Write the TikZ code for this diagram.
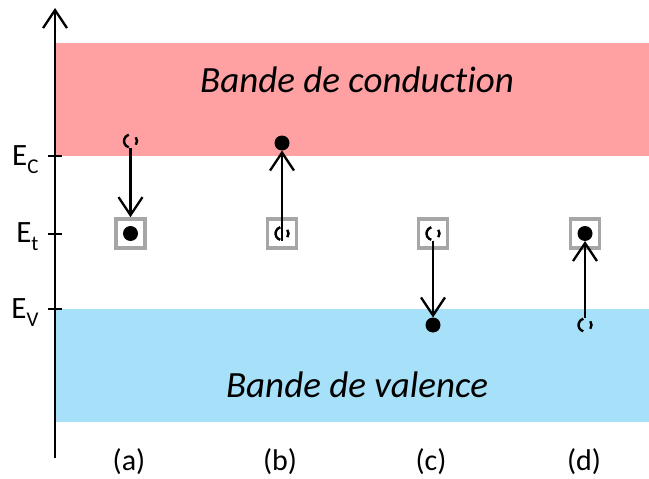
\documentclass[tikz,border=0pt]{standalone}
\usepackage{fontspec}
\setmainfont[Ligatures=NoCommon]{Carlito}
\usetikzlibrary{arrows.meta}
\definecolor{bandred}{RGB}{255,161,163}
\definecolor{bandblue}{RGB}{166,225,249}
\definecolor{boxgray}{RGB}{166,166,166}
\tikzset{
  arr/.style={line width=2.3pt,-{Straight Barb[length=18pt,width=24pt,line width=2.3pt]}},
  trapbox/.style={draw=boxgray,line width=3.6pt,minimum size=29pt,inner sep=0pt,fill=white},
  electron/.style={circle,fill=black,minimum size=15pt,inner sep=0pt,outer sep=0pt},
  hole/.style={circle,minimum size=14pt,inner sep=0pt,outer sep=0pt},
  holeline/.style={line width=2.4pt,draw=black},
  bandtext/.style={font=\fontsize{37}{40}\selectfont\itshape,anchor=base},
  lvl/.style={font=\fontsize{31}{32}\selectfont,anchor=base east},
  collab/.style={font=\fontsize{30}{32}\selectfont,anchor=base},
}
\newcommand{\sbs}[1]{\raisebox{-8pt}{\fontsize{21}{21}\selectfont #1}}
\begin{document}
\begin{tikzpicture}[x=1pt,y=-1pt]
\useasboundingbox (0,0) rectangle (649,479);
% bands
\fill[bandred] (55,43) rectangle (649,156);
\fill[bandblue] (55,309) rectangle (649,422);
\node[bandtext] (tc) at (357,92) {Bande de conduction};
\node[bandtext] (tv) at (357,397) {Bande de valence};
% axis
\coordinate (ax0) at (55,458);
\coordinate (ax1) at (55,8);
\draw[arr] (ax0) -- (ax1);
\foreach \y/\n in {156/c,234/t,309/v}{
  \coordinate (tl\n) at (48,\y);
  \coordinate (tr\n) at (62,\y);
  \draw[line width=2.3pt] (tl\n) -- (tr\n);
}
\node[lvl] (ec) at (42,165) {E\sbs{C}};
\node[lvl] (et) at (42,242) {E\sbs{t}};
\node[lvl] (ev) at (42,318) {E\sbs{V}};
% (a)
\node[trapbox] (sqa) at (130.5,233.5) {};
\node[electron] (ea) at (130.5,233.5) {};
\node[hole] (ha) at (130.5,141) {};
\draw[arr] (ha.south) -- (sqa.north);
% (b)
\node[trapbox] (sqb) at (282,233.5) {};
\node[hole] (hb) at (282,233.5) {};
\node[electron] (eb) at (282,143) {};
\draw[arr] (hb.south) -- (eb.south);
% (c)
\node[trapbox] (sqc) at (433,233.5) {};
\node[hole] (hc) at (433,233.5) {};
\node[electron] (ec2) at (433,325) {};
\draw[arr] (hc.south) -- (ec2.north);
% (d)
\node[trapbox] (sqd) at (585,233.5) {};
\node[electron] (ed) at (585,233.5) {};
\node[hole] (hd) at (585,325) {};
\draw[arr] (hd.north) -- (ed.south);
% hole outlines
\foreach \h in {ha,hb,hc,hd}{
  \draw[holeline] ([shift={(105:6.5)}]\h.center) arc[start angle=105,end angle=255,radius=6.5];
  \draw[holeline] ([shift={(-35:6.5)}]\h.center) arc[start angle=-35,end angle=35,radius=6.5];
}
% column labels
\node[collab] (la) at (129,470) {(a)};
\node[collab] (lb) at (280,470) {(b)};
\node[collab] (lc) at (431,470) {(c)};
\node[collab] (ld) at (584,470) {(d)};
\end{tikzpicture}
\end{document}
